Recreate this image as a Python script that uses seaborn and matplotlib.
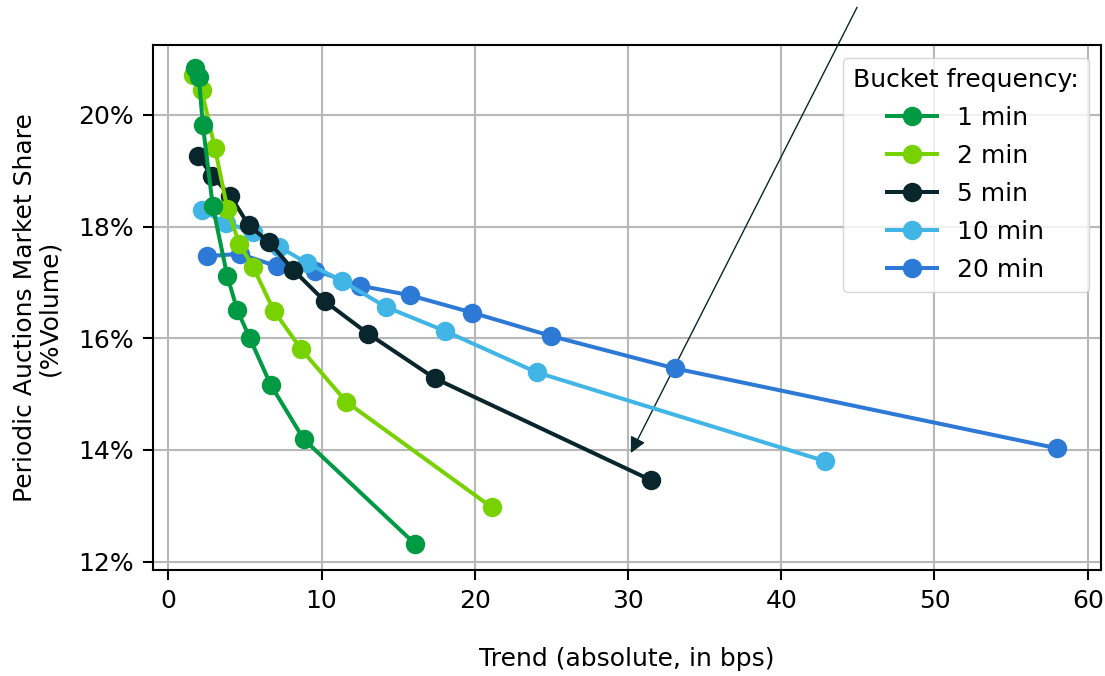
import numpy as np
import pandas as pd
import matplotlib
matplotlib.use("Agg")
import matplotlib.pyplot as plt
from matplotlib.ticker import PercentFormatter
import seaborn as sns

# values (x: trend in bps, y: market share in %)
buckets = ["1 min", "2 min", "5 min", "10 min", "20 min"]
colors = ["#009a44", "#78d200", "#0a262d", "#41b6e6", "#2d7ad6"]

trend_1 = [1.73, 1.99, 2.25, 2.90, 3.84, 4.49, 5.32, 6.67, 8.84, 16.09]
share_1 = [20.84, 20.68, 19.82, 18.36, 17.12, 16.51, 16.00, 15.17, 14.19, 12.32]
trend_2 = [1.58, 2.17, 3.04, 3.85, 4.63, 5.54, 6.89, 8.68, 11.62, 21.12]
share_2 = [20.72, 20.44, 19.40, 18.32, 17.69, 17.27, 16.49, 15.80, 14.86, 12.97]
trend_5 = [1.95, 2.87, 4.05, 5.25, 6.58, 8.16, 10.22, 13.04, 17.40, 31.49]
share_5 = [19.26, 18.90, 18.55, 18.02, 17.72, 17.22, 16.66, 16.08, 15.28, 13.46]
trend_10 = [2.17, 3.75, 5.52, 7.21, 9.02, 11.31, 14.20, 18.05, 24.03, 42.85]
share_10 = [18.29, 18.07, 17.90, 17.64, 17.35, 17.03, 16.56, 16.13, 15.39, 13.80]
trend_20 = [2.51, 4.67, 7.06, 9.60, 12.52, 15.76, 19.81, 24.97, 33.06, 58.00]
share_20 = [17.47, 17.51, 17.29, 17.21, 16.94, 16.77, 16.46, 16.04, 15.46, 14.03]

trends = [trend_1, trend_2, trend_5, trend_10, trend_20]
shares = [share_1, share_2, share_5, share_10, share_20]

df = pd.concat(
    [pd.DataFrame({"trend": t, "share": s, "bucket": b}) for b, t, s in zip(buckets, trends, shares)],
    ignore_index=True,
)

plt.rcParams["font.family"] = ["DejaVu Sans"]
plt.rcParams["font.size"] = 18
plt.rcParams["axes.linewidth"] = 1.5

fig, ax = plt.subplots(figsize=(11.05, 6.76), dpi=100)
fig.subplots_adjust(left=0.1385, right=0.9964, top=0.9334, bottom=0.1568)

sns.lineplot(data=df, x="trend", y="share", hue="bucket", hue_order=buckets,
             palette=colors, marker="o", markersize=14, markeredgewidth=0,
             linewidth=2.9, sort=False, estimator=None, ax=ax)

# shorter bucket on top
for i, line in enumerate(ax.lines[:len(buckets)]):
    line.set_zorder(10 - i)

ax.annotate("", xy=(30.1, 13.9), xytext=(45.03, 21.97),
            arrowprops=dict(arrowstyle="-|>", color="#0a262d", lw=1.0, mutation_scale=24),
            annotation_clip=False)

ax.set_xlim(-1.0, 60.87)
ax.set_ylim(11.85, 21.25)
ax.set_xticks(np.arange(0, 61, 10))
ax.set_yticks([12, 14, 16, 18, 20])
ax.yaxis.set_major_formatter(PercentFormatter(100, decimals=0))
ax.grid(True, color="#b8b8b8", linewidth=1.5)
ax.set_axisbelow(True)
ax.tick_params(length=7, width=1.5, pad=7)

ax.set_xlabel("Trend (absolute, in bps)", labelpad=24)
ax.set_ylabel("Periodic Auctions Market Share\n(%Volume)", labelpad=12, linespacing=1.0)

handles, labels = ax.get_legend_handles_labels()
ax.legend(handles, labels, title="Bucket frequency:", loc="upper right",
          fontsize=18, title_fontsize=18, labelspacing=0.56)

fig.savefig("out.png", dpi=100)
